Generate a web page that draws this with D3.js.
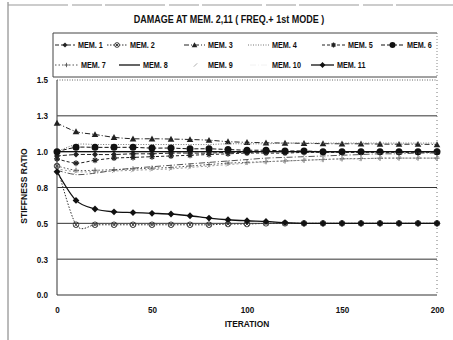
<!DOCTYPE html>
<html>
<head>
<meta charset="utf-8">
<script src="https://cdn.jsdelivr.net/npm/d3@7"></script>
<style>
  html, body { margin: 0; padding: 0; background: #fff; }
  svg { display: block; }
  text { font-family: "Liberation Sans", Arial, sans-serif; font-weight: bold; }
</style>
</head>
<body>
<svg id="chart" width="453" height="340"></svg>
<script>
// Iteration steps at which stiffness ratios were recorded
const iterations = [0, 10, 20, 30, 40, 50, 60, 70, 80, 90, 100, 110, 120, 130, 140, 150, 160, 170, 180, 190, 200];

const mem1  = [0.97, 0.98, 0.98, 0.98, 0.985, 0.985, 0.99, 0.99, 0.99, 0.995, 0.995, 1.0, 1.0, 1.0, 1.0, 1.0, 1.0, 1.0, 1.0, 1.0, 1.0];
const mem2  = [0.90, 0.49, 0.49, 0.49, 0.49, 0.49, 0.49, 0.49, 0.49, 0.495, 0.495, 0.5, 0.5, 0.5, 0.5, 0.5, 0.5, 0.5, 0.5, 0.5, 0.5];
const mem3  = [1.20, 1.14, 1.12, 1.10, 1.09, 1.09, 1.088, 1.085, 1.08, 1.07, 1.065, 1.062, 1.06, 1.058, 1.056, 1.055, 1.055, 1.053, 1.052, 1.052, 1.05];
const mem4  = [1.0, 1.05, 1.05, 1.05, 1.05, 1.05, 1.05, 1.05, 1.05, 1.055, 1.055, 1.055, 1.06, 1.06, 1.06, 1.06, 1.06, 1.06, 1.06, 1.06, 1.06];
const mem5  = [0.95, 0.92, 0.94, 0.955, 0.96, 0.965, 0.97, 0.975, 0.98, 0.985, 0.99, 0.99, 0.99, 0.995, 0.995, 0.995, 0.995, 0.995, 0.995, 0.995, 0.995];
const mem6  = [1.0, 1.03, 1.03, 1.03, 1.03, 1.025, 1.025, 1.02, 1.02, 1.015, 1.01, 1.01, 1.005, 1.005, 1.0, 1.0, 1.0, 1.0, 1.0, 1.0, 1.0];
const mem7  = [0.90, 0.87, 0.87, 0.875, 0.88, 0.885, 0.89, 0.90, 0.91, 0.92, 0.925, 0.93, 0.935, 0.94, 0.945, 0.95, 0.952, 0.954, 0.955, 0.955, 0.955];
const mem8  = [1.0, 1.0, 1.0, 1.0, 1.0, 1.0, 1.0, 1.0, 1.0, 1.0, 1.0, 1.0, 1.0, 1.0, 1.0, 1.0, 1.0, 1.0, 1.0, 1.0, 1.0];
const mem9  = [0.88, 0.86, 0.86, 0.865, 0.87, 0.875, 0.88, 0.89, 0.90, 0.91, 0.92, 0.93, 0.935, 0.94, 0.945, 0.95, 0.95, 0.955, 0.955, 0.955, 0.955];
const mem10 = [0.87, 0.84, 0.85, 0.87, 0.885, 0.895, 0.905, 0.915, 0.925, 0.935, 0.945, 0.955, 0.96, 0.965, 0.97, 0.975, 0.98, 0.985, 0.985, 0.99, 0.99];
const mem11 = [0.86, 0.66, 0.60, 0.58, 0.575, 0.57, 0.565, 0.553, 0.537, 0.525, 0.518, 0.513, 0.505, 0.5, 0.5, 0.5, 0.5, 0.5, 0.5, 0.5, 0.5];

const seriesNames = ["MEM. 1", "MEM. 2", "MEM. 3", "MEM. 4", "MEM. 5", "MEM. 6",
                     "MEM. 7", "MEM. 8", "MEM. 9", "MEM. 10", "MEM. 11"];
const seriesValues = [mem1, mem2, mem3, mem4, mem5, mem6, mem7, mem8, mem9, mem10, mem11];

const xTicks = [0, 50, 100, 150, 200];
const yTicks = [0, 0.25, 0.5, 0.75, 1.0, 1.25, 1.5];
const yTickLabels = ["0.0", "0.3", "0.5", "0.8", "1.0", "1.3", "1.5"];

const titleText = "DAMAGE AT MEM. 2,11 ( FREQ.+ 1st MODE )";
const xTitle = "ITERATION";
const yTitle = "STIFFNESS RATIO";

// Line / marker style per member
const styles = [
  { dash: "4,2",     marker: "diamond",  size: 3.0, color: "#222" },
  { dash: "1.5,1.5", marker: "xcircle",  size: 2.8, color: "#333" },
  { dash: "5,2,1,2", marker: "triangle", size: 3.3, color: "#222" },
  { dash: "1,1.5",   marker: null,       size: 0,   color: "#777" },
  { dash: "3,2",     marker: "star",     size: 3.0, color: "#222" },
  { dash: "4,2",     marker: "circle",   size: 3.5, color: "#111" },
  { dash: "1.5,2",   marker: "plus",     size: 2.6, color: "#555" },
  { dash: null,      marker: null,       size: 0,   color: "#111" },
  { dash: "2,2",     marker: "tick",     size: 2.0, color: "#999" },
  { dash: "6,2,1,2", marker: null,       size: 0,   color: "#555" },
  { dash: null,      marker: "diamond",  size: 3.4, color: "#111" }
];

const svg = d3.select("#chart");
const plot = { left: 57, right: 437, top: 80, bottom: 295 };

const x = d3.scaleLinear().domain([0, 200]).range([plot.left, plot.right]);
const y = d3.scaleLinear().domain([0, 1.5]).range([plot.bottom, plot.top]);

// Narrow the glyphs of a text selection to a fraction of their natural width
function condense(sel, factor) {
  sel.each(function () {
    const w = this.getComputedTextLength();
    d3.select(this).attr("textLength", w * factor).attr("lengthAdjust", "spacingAndGlyphs");
  });
  return sel;
}

// Outer frame
svg.append("line").attr("x1", 8).attr("x2", 8).attr("y1", 2).attr("y2", 340)
  .attr("stroke", "#777").attr("stroke-width", 1);
svg.append("line").attr("x1", 8).attr("x2", 453).attr("y1", 5).attr("y2", 5)
  .attr("stroke", "#999").attr("stroke-width", 1).attr("stroke-dasharray", "60,4,30,3");

// Title
condense(svg.append("text").attr("x", 229).attr("y", 23).attr("text-anchor", "middle")
  .attr("font-size", 10).attr("fill", "#111").text(titleText), 0.9);

// Gridlines
const gridG = svg.append("g");
gridG.selectAll("line.grid").data(yTicks.filter(v => v > 0 && v < 1.5)).join("line")
  .attr("class", "grid")
  .attr("x1", plot.left).attr("x2", plot.right)
  .attr("y1", d => y(d)).attr("y2", d => y(d))
  .attr("stroke", "#333").attr("stroke-width", 1);
// Top (dotted) and right (dotted) plot border
gridG.append("line").attr("x1", plot.left).attr("x2", plot.right)
  .attr("y1", y(1.5)).attr("y2", y(1.5))
  .attr("stroke", "#666").attr("stroke-width", 1).attr("stroke-dasharray", "1,1.5");
gridG.append("line").attr("x1", plot.right).attr("x2", plot.right)
  .attr("y1", y(1.5)).attr("y2", y(0))
  .attr("stroke", "#777").attr("stroke-width", 1).attr("stroke-dasharray", "1,3");
// Left and bottom axis lines
gridG.append("line").attr("x1", plot.left).attr("x2", plot.left)
  .attr("y1", y(1.5)).attr("y2", y(0)).attr("stroke", "#555").attr("stroke-width", 1.2);
gridG.append("line").attr("x1", plot.left).attr("x2", plot.right)
  .attr("y1", y(0)).attr("y2", y(0)).attr("stroke", "#333").attr("stroke-width", 1.2);

// Axes (labels only)
const xAxis = d3.axisBottom(x).tickValues(xTicks).tickSize(0).tickPadding(12).tickFormat(d3.format("d"));
const yAxis = d3.axisLeft(y).tickValues(yTicks).tickSize(0).tickPadding(9)
  .tickFormat((d, i) => yTickLabels[i]);

const gx = svg.append("g").attr("transform", `translate(0,${plot.bottom})`).call(xAxis);
const gy = svg.append("g").attr("transform", `translate(${plot.left},0)`).call(yAxis);
[gx, gy].forEach(g => {
  g.select(".domain").remove();
  g.attr("font-family", null);
  g.selectAll("text").attr("font-size", 9).attr("fill", "#111");
  condense(g.selectAll("text"), 0.9);
});

condense(svg.append("text").attr("x", 247).attr("y", 327).attr("text-anchor", "middle")
  .attr("font-size", 9).attr("fill", "#111").text(xTitle), 0.93);
condense(svg.append("text").attr("transform", "translate(27,186) rotate(-90)")
  .attr("text-anchor", "middle").attr("font-size", 9).attr("fill", "#111").text(yTitle), 0.95);

// Marker drawing helper
function drawMarker(g, type, size, color) {
  if (!type) return;
  const s = size;
  if (type === "circle") {
    g.append("circle").attr("r", s).attr("fill", color);
  } else if (type === "diamond") {
    g.append("path").attr("d", `M0,${-s}L${s},0L0,${s}L${-s},0Z`).attr("fill", color);
  } else if (type === "triangle") {
    g.append("path").attr("d", `M0,${-s}L${s},${s * 0.8}L${-s},${s * 0.8}Z`).attr("fill", color);
  } else if (type === "xcircle") {
    g.append("circle").attr("r", s).attr("fill", "none").attr("stroke", color).attr("stroke-width", 0.9);
    g.append("path").attr("d", `M${-s * 0.7},${-s * 0.7}L${s * 0.7},${s * 0.7}M${-s * 0.7},${s * 0.7}L${s * 0.7},${-s * 0.7}`)
      .attr("stroke", color).attr("stroke-width", 0.9);
  } else if (type === "star") {
    g.append("path").attr("d", `M${-s},0L${s},0M0,${-s}L0,${s}M${-s * 0.7},${-s * 0.7}L${s * 0.7},${s * 0.7}M${-s * 0.7},${s * 0.7}L${s * 0.7},${-s * 0.7}`)
      .attr("stroke", color).attr("stroke-width", 1.1);
  } else if (type === "plus") {
    g.append("path").attr("d", `M${-s},0L${s},0M0,${-s}L0,${s}`)
      .attr("stroke", color).attr("stroke-width", 0.9);
  } else if (type === "tick") {
    g.append("path").attr("d", `M${-s},${s}L${s},${-s}`)
      .attr("stroke", color).attr("stroke-width", 0.8);
  }
}

// Series
const line = d3.line()
  .x((d, i) => x(iterations[i]))
  .y(d => y(d))
  .curve(d3.curveCardinal.tension(0.1));

const seriesG = svg.append("g");
seriesValues.forEach((vals, k) => {
  const st = styles[k];
  seriesG.append("path").datum(vals)
    .attr("d", line)
    .attr("fill", "none")
    .attr("stroke", st.color)
    .attr("stroke-width", k === 10 || k === 7 ? 1.3 : 1)
    .attr("stroke-dasharray", st.dash);
  if (st.marker) {
    vals.forEach((v, i) => {
      const g = seriesG.append("g").attr("transform", `translate(${x(iterations[i])},${y(v)})`);
      drawMarker(g, st.marker, st.size, st.color);
    });
  }
});

// Legend
const legendBox = { x: 53, y: 33, w: 384, h: 44 };
svg.append("path")
  .attr("d", `M${legendBox.x + legendBox.w},${legendBox.y}H${legendBox.x}V${legendBox.y + legendBox.h}H${legendBox.x + legendBox.w}`)
  .attr("fill", "none").attr("stroke", "#444").attr("stroke-width", 1);
svg.append("line")
  .attr("x1", legendBox.x + legendBox.w).attr("x2", legendBox.x + legendBox.w)
  .attr("y1", legendBox.y).attr("y2", legendBox.y + legendBox.h)
  .attr("stroke", "#888").attr("stroke-dasharray", "1,2");

// swatch start / text start per legend slot, two rows
const legendSlots = [
  [55, 78], [107, 130], [184, 208], [248, 272], [322, 348], [381, 407],
  [55, 81], [119, 143], [186, 208], [250, 272], [311, 337]
];
const legendRowY = [48, 68];

seriesNames.forEach((name, k) => {
  const st = styles[k];
  const [sx, tx] = legendSlots[k];
  const ry = legendRowY[k < 6 ? 0 : 1];
  const sw = tx - sx - 3;
  const g = svg.append("g");
  const swColor = k === 9 ? "#f2f2f2" : st.color;
  if (k !== 8) {
    g.append("line").attr("x1", sx).attr("x2", sx + sw).attr("y1", ry - 3).attr("y2", ry - 3)
      .attr("stroke", swColor).attr("stroke-width", k === 10 || k === 7 ? 1.3 : 1)
      .attr("stroke-dasharray", st.dash);
  }
  const mg = g.append("g").attr("transform", `translate(${sx + sw / 2},${ry - 3})`);
  drawMarker(mg, st.marker, st.size * 0.85, st.color);
  condense(g.append("text").attr("x", tx).attr("y", ry).attr("font-size", 8.5)
    .attr("fill", "#111").text(name), 0.85);
});
</script>
</body>
</html>
